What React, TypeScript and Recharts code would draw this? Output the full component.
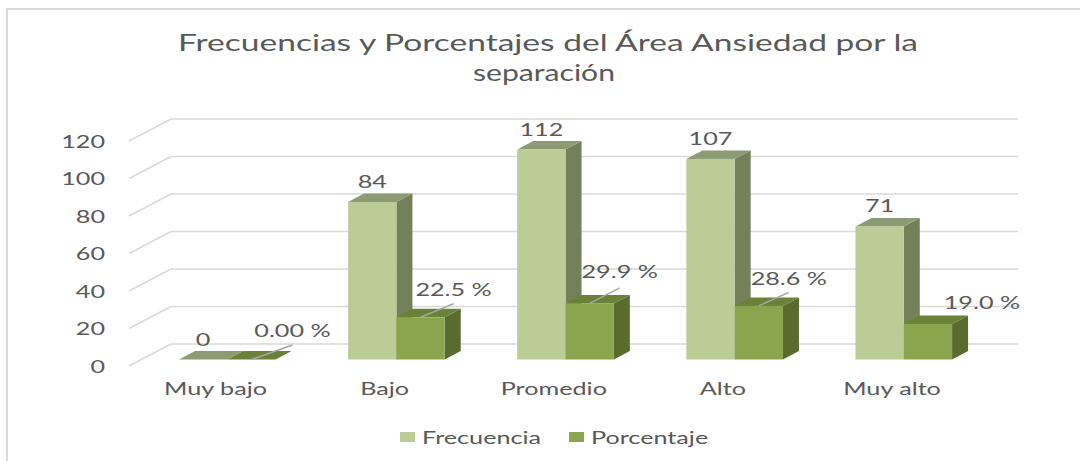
import { BarChart, Bar, XAxis, YAxis, CartesianGrid, Legend, LabelList } from "recharts";

const categories = ["Muy bajo", "Bajo", "Promedio", "Alto", "Muy alto"];
const frecuencia = [0, 84, 112, 107, 71];
const porcentaje = [0, 22.5, 29.9, 28.6, 19.0];
const porcentajeLabels = ["0.00 %", "22.5 %", "29.9 %", "28.6 %", "19.0 %"];
const yTicks = [0, 20, 40, 60, 80, 100, 120];

const data = categories.map((name, i) => ({
  name,
  frecuencia: frecuencia[i],
  porcentaje: porcentaje[i],
}));

const FONT = "Lato, sans-serif";
const TEXT = "#595959";
const GRID = "#d9d9d9";
const STRETCH = 1.4;
const DEPTH_X = 16;
const DEPTH_Y = 8.5;

// labels were dragged by hand in the original, offsets are from the top centre of the bar
const pctLabelOffset = [
  { dx: 41, dy: -29, line: true },
  { dx: 33, dy: -27, line: true },
  { dx: 30, dy: -31, line: true },
  { dx: 30, dy: -27, line: true },
  { dx: 54, dy: -21, line: false },
];

function Stretched({ x, y, size = 18, anchor = "middle", fill = TEXT, children }: any) {
  return (
    <text
      transform={`translate(${x},${y}) scale(${STRETCH},1)`}
      textAnchor={anchor}
      fontFamily={FONT}
      fontSize={size}
      fill={fill}
    >
      {children}
    </text>
  );
}

function box3d(front: string, top: string, side: string) {
  return function Box({ x, y, width, height }: any) {
    const r = x + width;
    const b = y + height;
    return (
      <g>
        <polygon
          points={`${r},${y} ${r + DEPTH_X},${y - DEPTH_Y} ${r + DEPTH_X},${b - DEPTH_Y} ${r},${b}`}
          fill={side}
        />
        <polygon
          points={`${x},${y} ${x + DEPTH_X},${y - DEPTH_Y} ${r + DEPTH_X},${y - DEPTH_Y} ${r},${y}`}
          fill={top}
        />
        <rect x={x} y={y} width={width} height={height} fill={front} />
      </g>
    );
  };
}

function gridLine({ x1, x2, y1, key }: any) {
  return (
    <g key={key}>
      <line x1={x1 - 14} y1={y1 + 6.5} x2={x1 + 28} y2={y1 - 15.5} stroke={GRID} strokeWidth={1.5} />
      <line x1={x1 + 28} y1={y1 - 15.5} x2={x2 + 29.5} y2={y1 - 15.5} stroke={GRID} strokeWidth={1.5} />
    </g>
  );
}

function YTick({ y, payload }: any) {
  return (
    <Stretched x={105} y={y + 13} anchor="end">
      {payload.value}
    </Stretched>
  );
}

function XTick({ x, y, payload }: any) {
  return (
    <Stretched x={x - 12} y={y + 27}>
      {payload.value}
    </Stretched>
  );
}

function FreqLabel({ x, y, width, value }: any) {
  return (
    <Stretched x={x + width / 2} y={y - 14}>
      {value}
    </Stretched>
  );
}

function PctLabel({ x, y, width, index }: any) {
  const o = pctLabelOffset[index];
  const cx = x + width / 2;
  return (
    <g>
      {o.line && (
        <line x1={cx} y1={y} x2={cx + o.dx} y2={y + o.dy / 2} stroke="#a6a6a6" strokeWidth={1.5} />
      )}
      <Stretched x={cx + o.dx} y={y + o.dy + 6}>
        {porcentajeLabels[index]}
      </Stretched>
    </g>
  );
}

function LegendContent({ payload }: any) {
  const xs = [0, 169];
  return (
    <svg width={320} height={24} style={{ display: "block" }}>
      {(payload || []).map((p: any, i: number) => (
        <g key={p.value}>
          <rect x={xs[i]} y={5} width={15} height={10} fill={p.color} />
          <Stretched x={xs[i] + 22} y={17} anchor="start">
            {p.value}
          </Stretched>
        </g>
      ))}
    </svg>
  );
}

export default function App() {
  return (
    <div style={{ position: "absolute", left: 0, top: 0, width: 1080, height: 461, background: "#fff", overflow: "hidden" }}>
      <div
        style={{
          position: "absolute",
          left: 6,
          top: 8,
          width: 1080,
          height: 460,
          borderLeft: `2px solid ${GRID}`,
          borderTop: `2px solid ${GRID}`,
        }}
      />
      <div style={{ position: "absolute", left: 0, top: 0 }}>
        <BarChart
          width={1080}
          height={461}
          data={data}
          margin={{ top: 134.5, right: 91.4, bottom: 37.5, left: 0 }}
          barSize={48.3}
          barGap={0}
        >
          <text
            x={548}
            y={51}
            textAnchor="middle"
            fontFamily={FONT}
            fontSize={24}
            fill={TEXT}
            textLength={740}
            lengthAdjust="spacingAndGlyphs"
          >
            Frecuencias y Porcentajes del Área Ansiedad por la
          </text>
          <text
            x={544}
            y={81}
            textAnchor="middle"
            fontFamily={FONT}
            fontSize={24}
            fill={TEXT}
            textLength={142}
            lengthAdjust="spacingAndGlyphs"
          >
            separación
          </text>
          <CartesianGrid vertical={false} horizontal={gridLine} />
          <XAxis dataKey="name" axisLine={false} tickLine={false} height={40} tick={XTick} interval={0} />
          <YAxis
            width={143}
            domain={[0, 120]}
            ticks={yTicks}
            axisLine={false}
            tickLine={false}
            tick={YTick}
            interval={0}
          />
          <Legend
            content={LegendContent}
            wrapperStyle={{ left: 400, top: 427, bottom: "auto", width: 320, height: 24 }}
          />
          <Bar
            dataKey="frecuencia"
            name="Frecuencia"
            fill="#bbcc96"
            shape={box3d("#bbcc96", "#8c9b73", "#738059")}
            isAnimationActive={false}
          >
            <LabelList dataKey="frecuencia" content={FreqLabel} />
          </Bar>
          <Bar
            dataKey="porcentaje"
            name="Porcentaje"
            fill="#8aa54e"
            shape={box3d("#8aa54e", "#6a8238", "#5a6b2f")}
            isAnimationActive={false}
          >
            <LabelList dataKey="porcentaje" content={PctLabel} />
          </Bar>
        </BarChart>
      </div>
    </div>
  );
}
